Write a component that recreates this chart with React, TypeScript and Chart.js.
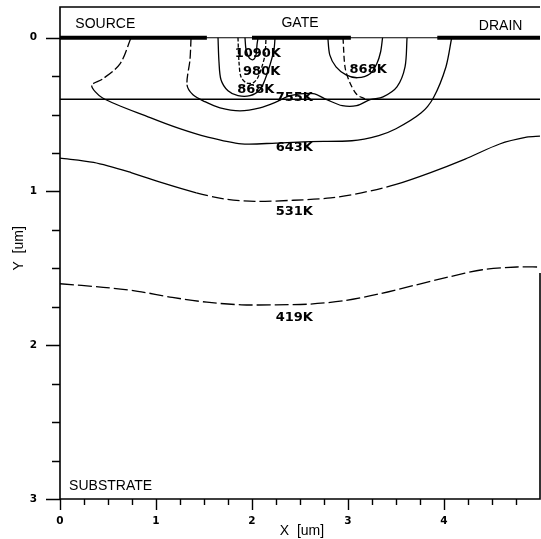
import { useEffect, useRef } from "react";
import { Chart, registerables } from "chart.js";

Chart.register(...registerables);

// Axis extents (um) and tick labels
const xMin = 0;
const xMax = 5;
const yMin = -0.2;
const yMax = 3;
const xMajorTicks = [0, 1, 2, 3, 4];
const yMajorTicks = [0, 1, 2, 3];
const minorStep = 0.25;

// Isotherms (x, y in um)
const t419x = [0, 0.45, 0.81, 1.17, 1.53, 1.89, 2.25, 2.61, 2.96, 3.32, 3.68, 4.04, 4.4, 4.76, 5.0];
const t419y = [1.6, 1.623, 1.649, 1.689, 1.72, 1.737, 1.737, 1.732, 1.71, 1.667, 1.612, 1.557, 1.509, 1.491, 1.491];

const t531x = [0, 0.35, 0.74, 1.06, 1.42, 1.71, 2.03, 2.43, 2.82, 3.14, 3.5, 3.86, 4.22, 4.58, 4.86, 5.0];
const t531y = [0.783, 0.811, 0.877, 0.943, 1.009, 1.048, 1.064, 1.057, 1.042, 1.009, 0.954, 0.877, 0.789, 0.691, 0.647, 0.64];

const t643x = [0.74, 0.625, 0.44, 0.33, 0.44, 0.94, 1.24, 1.53, 1.89, 2.25, 2.61, 3.04, 3.32, 3.5, 3.76, 3.89, 4.02, 4.08];
const t643y = [0, 0.17, 0.27, 0.31, 0.39, 0.52, 0.59, 0.645, 0.69, 0.685, 0.675, 0.67, 0.636, 0.592, 0.49, 0.39, 0.19, 0];

const t755x = [1.365, 1.354, 1.323, 1.385, 1.51, 1.667, 1.875, 2.083, 2.26, 2.396, 2.635, 2.78, 2.94, 3.09, 3.23, 3.365, 3.51, 3.594, 3.615];
const t755y = [0, 0.143, 0.306, 0.371, 0.416, 0.456, 0.475, 0.456, 0.416, 0.377, 0.364, 0.403, 0.442, 0.442, 0.403, 0.384, 0.319, 0.189, 0];

const t868Lx = [1.646, 1.656, 1.677, 1.75, 1.854, 1.979, 2.083, 2.135, 2.188, 2.229, 2.24];
const t868Ly = [0, 0.156, 0.273, 0.345, 0.377, 0.377, 0.338, 0.273, 0.176, 0.078, 0];

const t868Rx = [2.79, 2.81, 2.875, 2.98, 3.1, 3.23, 3.3, 3.34, 3.36];
const t868Ry = [0, 0.111, 0.189, 0.241, 0.26, 0.234, 0.169, 0.091, 0];

const t980x = [1.854, 1.865, 1.885, 1.94, 2.01, 2.06, 2.1, 2.135, 2.146];
const t980y = [0, 0.163, 0.254, 0.293, 0.293, 0.26, 0.195, 0.111, 0];

const t1090x = [1.927, 1.938, 1.969, 2.01, 2.042, 2.052, 2.063];
const t1090y = [0, 0.078, 0.13, 0.143, 0.111, 0.046, 0];

// Upper-layer isotherm beside the drain-side hot spot, ending at the interface
const tUpperX = [2.948, 2.97, 3.02, 3.094, 3.177];
const tUpperY = [0, 0.195, 0.293, 0.371, 0.397];

// Device structure (um)
const sourceX = [0, 1.53];
const gateX = [2.0, 3.03];
const drainX = [3.93, 5.0];
const surfaceY = 0;
const interfaceY = 0.4;

// Region names
const regionNames = ["SOURCE", "GATE", "DRAIN", "SUBSTRATE"];
const regionX = [0.16, 2.5, 4.59, 0.095];
const regionY = [-0.09, -0.095, -0.075, 2.915];
const regionAlign: CanvasTextAlign[] = ["left", "center", "center", "left"];

// Isotherm labels
const levelText = ["419K", "531K", "643K", "755K", "868K", "868K", "980K", "1090K"];
const levelX = [2.44, 2.44, 2.44, 2.44, 2.04, 3.21, 2.1, 2.06];
const levelY = [1.82, 1.13, 0.715, 0.39, 0.34, 0.21, 0.22, 0.106];

const rightFrameFrom = 1.53;

const pts = (xs: number[], ys: number[]) => xs.map((x, i) => ({ x, y: ys[i] }));

const INK = "#000";

function curve(xs: number[], ys: number[], dash: number[] = [], dashFrom = -1, dashTo = -1) {
  return {
    data: pts(xs, ys),
    showLine: true,
    pointRadius: 0,
    borderColor: INK,
    borderWidth: 1.3,
    tension: 0.3,
    fill: false,
    borderDash: dashFrom < 0 ? dash : [],
    segment:
      dashFrom < 0
        ? undefined
        : {
            borderDash: (ctx: any) =>
              ctx.p0DataIndex >= dashFrom && ctx.p1DataIndex <= dashTo ? dash : undefined,
          },
  };
}

function bar(xs: number[], y: number, width: number) {
  return {
    data: xs.map((x) => ({ x, y })),
    showLine: true,
    pointRadius: 0,
    borderColor: INK,
    borderWidth: width,
    borderCapStyle: "butt",
    tension: 0,
    fill: false,
  };
}

const decorPlugin = {
  id: "deviceDecor",
  afterDatasetsDraw(chart: any) {
    const { ctx, chartArea, scales } = chart;
    const xs = scales.x;
    const ys = scales.y;
    const px = (v: number) => xs.getPixelForValue(v);
    const py = (v: number) => ys.getPixelForValue(v);
    ctx.save();
    ctx.strokeStyle = INK;
    ctx.fillStyle = INK;

    // frame
    ctx.lineWidth = 1.6;
    ctx.beginPath();
    ctx.moveTo(chartArea.right, chartArea.top);
    ctx.lineTo(chartArea.left, chartArea.top);
    ctx.lineTo(chartArea.left, chartArea.bottom);
    ctx.lineTo(chartArea.right, chartArea.bottom);
    ctx.lineTo(chartArea.right, py(rightFrameFrom));
    ctx.stroke();

    // tick marks
    ctx.lineWidth = 1.4;
    ctx.beginPath();
    for (let v = 0; v <= yMax + 1e-9; v += minorStep) {
      const major = Math.abs(v - Math.round(v)) < 1e-6;
      const y = Math.round(py(v)) + 0.5;
      ctx.moveTo(chartArea.left, y);
      ctx.lineTo(chartArea.left - (major ? 14 : 8), y);
    }
    for (let v = 0; v < xMax - 1e-9; v += minorStep) {
      const major = Math.abs(v - Math.round(v)) < 1e-6;
      const x = Math.round(px(v)) + 0.5;
      ctx.moveTo(x, chartArea.bottom);
      ctx.lineTo(x, chartArea.bottom + (major ? 11 : 6));
    }
    ctx.stroke();

    // region names
    ctx.font = '14px "Liberation Sans", Arial, sans-serif';
    ctx.textBaseline = "middle";
    regionNames.forEach((t, i) => {
      ctx.textAlign = regionAlign[i];
      ctx.fillText(t, px(regionX[i]), py(regionY[i]));
    });

    // isotherm labels
    ctx.font = 'bold 13px "DejaVu Sans", sans-serif';
    ctx.textAlign = "center";
    levelText.forEach((t, i) => {
      ctx.fillText(t, px(levelX[i]), py(levelY[i]));
    });

    // axis titles
    ctx.font = '14px "Liberation Sans", Arial, sans-serif';
    ctx.textAlign = "center";
    ctx.fillText("X  [um]", (chartArea.left + chartArea.right) / 2 + 2, chart.height - 8);
    ctx.save();
    ctx.translate(19, (py(0) + py(yMax)) / 2 - 20);
    ctx.rotate(-Math.PI / 2);
    ctx.fillText("Y  [um]", 0, 0);
    ctx.restore();

    ctx.restore();
  },
};

const clearPads = (s: any) => {
  s.paddingTop = 0;
  s.paddingBottom = 0;
  s.paddingLeft = 0;
  s.paddingRight = 0;
};

export default function App() {
  const canvasRef = useRef<HTMLCanvasElement | null>(null);

  useEffect(() => {
    document.body.style.margin = "0";
    const canvas = canvasRef.current;
    if (!canvas) return;
    const tickFont = { family: '"DejaVu Sans", sans-serif', size: 10.5, weight: "bold" as const };
    const chart = new Chart(canvas, {
      type: "scatter",
      data: {
        datasets: [
          bar([xMin, xMax], surfaceY, 1.2),
          bar([xMin, xMax], interfaceY, 1.3),
          bar(sourceX, surfaceY, 4),
          bar(gateX, surfaceY, 4),
          bar(drainX, surfaceY, 4),
          curve(t419x, t419y, [14, 4]),
          curve(t531x, t531y, [12, 4], 4, 10),
          curve(t643x, t643y, [10, 3], 0, 3),
          curve(t755x, t755y, [9, 3], 0, 2),
          curve(t868Lx, t868Ly),
          curve(t868Rx, t868Ry),
          curve(t980x, t980y, [4, 2]),
          curve(t1090x, t1090y),
          curve(tUpperX, tUpperY, [6, 3]),
        ] as any,
      },
      options: {
        responsive: false,
        animation: false,
        devicePixelRatio: 1,
        layout: { padding: { top: 7, right: 1, left: 0, bottom: 0 } },
        plugins: { legend: { display: false }, title: { display: false }, tooltip: { enabled: false } },
        scales: {
          x: {
            type: "linear",
            min: xMin,
            max: xMax,
            afterFit: (s: any) => {
              s.height = 40;
              clearPads(s);
            },
            afterBuildTicks: (s: any) => {
              s.ticks = xMajorTicks.map((v) => ({ value: v }));
            },
            ticks: {
              autoSkip: false,
              maxRotation: 0,
              padding: 8,
              color: INK,
              font: tickFont,
              callback: (v: any) => String(v),
            },
            grid: { display: false },
            border: { display: false },
          },
          y: {
            type: "linear",
            reverse: true,
            min: yMin,
            max: yMax,
            afterFit: (s: any) => {
              s.width = 60;
              clearPads(s);
            },
            afterBuildTicks: (s: any) => {
              s.ticks = yMajorTicks.map((v) => ({ value: v }));
            },
            ticks: {
              autoSkip: false,
              padding: 15,
              color: INK,
              font: tickFont,
              callback: (v: any) => String(v),
            },
            grid: { display: false },
            border: { display: false },
          },
        },
      } as any,
      plugins: [decorPlugin],
    });
    return () => chart.destroy();
  }, []);

  return (
    <div style={{ width: 541, height: 539, background: "#fff" }}>
      <canvas ref={canvasRef} width={541} height={539} style={{ display: "block" }} />
    </div>
  );
}
